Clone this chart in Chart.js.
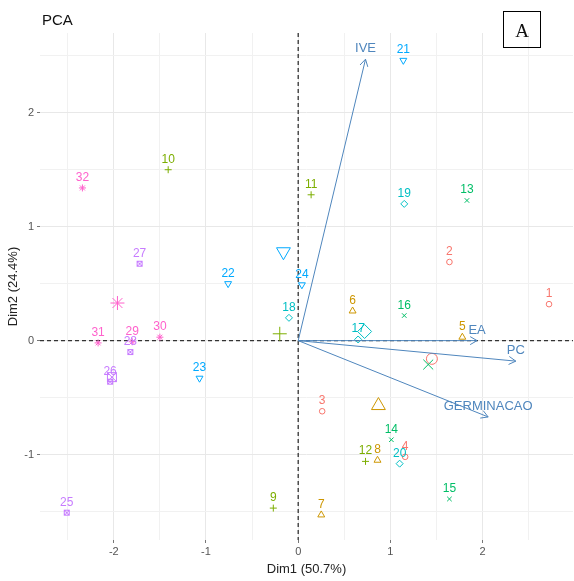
<!DOCTYPE html>
<html>
<head>
<meta charset="utf-8">
<script src="https://cdn.jsdelivr.net/npm/chart.js@4"></script>
<style>
  html, body { margin: 0; padding: 0; background: #fff; overflow: hidden; }
  canvas { display: block; }
</style>
</head>
<body>
<canvas id="pca" width="574" height="581"></canvas>
<script>
// --- DATA ---
const pointLabels = ['1','2','3','4','5','6','7','8','9','10','11','12','13','14','15','16',
                     '17','18','19','20','21','22','23','24','25','26','27','28','29','30','31','32'];
const dim1 = [2.72, 1.64, 0.26, 1.16, 1.78, 0.59, 0.25, 0.86, -0.27, -1.41, 0.14, 0.73,
              1.83, 1.01, 1.64, 1.15, 0.65, -0.10, 1.15, 1.10, 1.14, -0.76, -1.07, 0.04,
              -2.51, -2.04, -1.72, -1.82, -1.80, -1.50, -2.17, -2.34];
const dim2 = [0.32, 0.69, -0.62, -1.02, 0.03, 0.26, -1.53, -1.05, -1.47, 1.50, 1.28, -1.06,
              1.23, -0.87, -1.39, 0.22, 0.01, 0.20, 1.20, -1.08, 2.46, 0.50, -0.33, 0.49,
              -1.51, -0.36, 0.675, -0.10, -0.01, 0.03, -0.02, 1.34];
const groupOf = [0,0,0,0, 1,1,1,1, 2,2,2,2, 3,3,3,3, 4,4,4,4, 5,5,5,5, 6,6,6,6, 7,7,7,7];

// group means (big markers)
const centerDim1 = [1.45, 0.87, -0.20, 1.41, 0.72, -0.16, -2.02, -1.96];
const centerDim2 = [-0.16, -0.57, 0.06, -0.21, 0.08, 0.78, -0.32, 0.33];

// variables (arrows)
const varNames = ['IVE', 'EA', 'PC', 'GERMINACAO'];
const varDim1 = [0.73, 1.94, 2.36, 2.06];
const varDim2 = [2.47, 0.00, -0.18, -0.67];

const xTicks = [-2.5, -2, -1.5, -1, -0.5, 0, 0.5, 1, 1.5, 2, 2.5];
const yTicks = [-1.5, -1, -0.5, 0, 0.5, 1, 1.5, 2, 2.5];

// --- STYLE ---
const colors = ['#F8766D', '#CD9600', '#7CAE00', '#00BE67', '#00BFC4', '#00A9FF', '#C77CFF', '#FF61CC'];
const arrowColor = '#4f86bd';

function squareCross(size, color) {
    const c = document.createElement('canvas');
    c.width = c.height = size + 2;
    const g = c.getContext('2d');
    g.strokeStyle = color;
    g.lineWidth = 1;
    g.strokeRect(1.5, 1.5, size - 1, size - 1);
    g.beginPath();
    g.moveTo(1.5, 1.5); g.lineTo(size + 0.5, size + 0.5);
    g.moveTo(size + 0.5, 1.5); g.lineTo(1.5, size + 0.5);
    g.stroke();
    return c;
}

// shape per group: circle, triangle, plus, x, diamond, down triangle, square-x, asterisk
const shapes = ['circle', 'triangle', 'cross', 'crossRot', 'rectRot', 'triangle', squareCross(6, colors[6]), 'star'];
const bigShapes = ['circle', 'triangle', 'cross', 'crossRot', 'rectRot', 'triangle', squareCross(10, colors[6]), 'star'];
const radius = [2.8, 4, 3.5, 3.2, 3.5, 4, 3, 3.5];
const bigRadius = [5.5, 8, 7, 7, 7, 8, 5, 7];
const rotation = [0, 0, 0, 0, 0, 180, 0, 0];

// --- DATASETS ---
const datasets = [];

varNames.forEach((name, i) => {
    datasets.push({
        label: name,
        data: [{ x: 0, y: 0 }, { x: varDim1[i], y: varDim2[i] }],
        showLine: true,
        borderColor: arrowColor,
        borderWidth: 1,
        pointRadius: 0,
        isArrow: true
    });
});

colors.forEach((col, g) => {
    const pts = [];
    pointLabels.forEach((lab, i) => {
        if (groupOf[i] === g) pts.push({ x: dim1[i], y: dim2[i], label: lab });
    });
    datasets.push({
        label: 'G' + (g + 1),
        data: pts,
        pointStyle: shapes[g],
        pointRadius: radius[g],
        pointRotation: rotation[g],
        borderColor: col,
        backgroundColor: 'rgba(0,0,0,0)',
        borderWidth: 1,
        isGroup: true
    });
});

datasets.push({
    label: 'centres',
    data: centerDim1.map((x, g) => ({ x: x, y: centerDim2[g] })),
    pointStyle: bigShapes,
    pointRadius: bigRadius,
    pointRotation: rotation,
    borderColor: colors,
    backgroundColor: 'rgba(0,0,0,0)',
    borderWidth: 1
});

// --- DRAWING EXTRAS ---
const extras = {
    id: 'extras',
    beforeDatasetsDraw(chart) {
        const ctx = chart.ctx;
        const a = chart.chartArea;
        const x0 = chart.scales.x.getPixelForValue(0);
        const y0 = chart.scales.y.getPixelForValue(0);
        ctx.save();
        ctx.strokeStyle = '#333';
        ctx.lineWidth = 1.3;
        ctx.setLineDash([4, 3]);
        ctx.beginPath();
        ctx.moveTo(a.left, y0); ctx.lineTo(a.right, y0);
        ctx.moveTo(x0, a.top); ctx.lineTo(x0, a.bottom);
        ctx.stroke();
        ctx.restore();
    },
    afterDatasetsDraw(chart) {
        const ctx = chart.ctx;
        ctx.save();
        ctx.textAlign = 'center';
        ctx.textBaseline = 'alphabetic';

        chart.data.datasets.forEach((ds, i) => {
            const meta = chart.getDatasetMeta(i);
            if (ds.isArrow) {
                const p0 = meta.data[0], p1 = meta.data[1];
                const ang = Math.atan2(p1.y - p0.y, p1.x - p0.x);
                const len = 8;
                ctx.strokeStyle = arrowColor;
                ctx.lineWidth = 1;
                ctx.beginPath();
                ctx.moveTo(p1.x - len * Math.cos(ang - Math.PI / 6), p1.y - len * Math.sin(ang - Math.PI / 6));
                ctx.lineTo(p1.x, p1.y);
                ctx.lineTo(p1.x - len * Math.cos(ang + Math.PI / 6), p1.y - len * Math.sin(ang + Math.PI / 6));
                ctx.stroke();
                ctx.font = '13px "Liberation Sans", Arial, sans-serif';
                ctx.fillStyle = arrowColor;
                ctx.fillText(ds.label, p1.x, p1.y - 7);
            }
            if (ds.isGroup) {
                ctx.font = '12px "Liberation Sans", Arial, sans-serif';
                ctx.fillStyle = ds.borderColor;
                meta.data.forEach((el, j) => {
                    ctx.fillText(ds.data[j].label, el.x, el.y - 7);
                });
            }
        });

        // title
        ctx.textAlign = 'left';
        ctx.fillStyle = '#111';
        ctx.font = '15px "Liberation Sans", Arial, sans-serif';
        ctx.fillText('PCA', 42, 25);

        // panel tag
        ctx.strokeStyle = '#000';
        ctx.lineWidth = 1;
        ctx.strokeRect(503.5, 11.5, 37, 36);
        ctx.textAlign = 'center';
        ctx.font = '19px "Liberation Serif", "Times New Roman", serif';
        ctx.fillText('A', 522, 37);
        ctx.restore();
    }
};

const gridColor = c => Number.isInteger(c.tick.value) ? '#e8e8e8' : '#f1f1f1';
const tickColor = c => Number.isInteger(c.tick.value) ? '#777' : 'rgba(0,0,0,0)';

new Chart(document.getElementById('pca'), {
    type: 'scatter',
    data: { datasets: datasets },
    options: {
        responsive: false,
        animation: false,
        layout: { autoPadding: false, padding: { top: 33, right: 1, left: 0, bottom: 0 } },
        plugins: { legend: { display: false }, tooltip: { enabled: false } },
        scales: {
            x: {
                min: -2.8, max: 2.98,
                afterBuildTicks: s => { s.ticks = xTicks.map(v => ({ value: v })); },
                afterFit: s => { s.height = 41; },
                grid: { color: gridColor, tickColor: tickColor, tickLength: 3, lineWidth: 1 },
                border: { display: false },
                ticks: {
                    autoSkip: false, maxRotation: 0, padding: 2,
                    color: '#555', font: { size: 11, family: '"Liberation Sans", Arial, sans-serif' },
                    callback: v => Number.isInteger(v) ? String(v) : ''
                },
                title: {
                    display: true, text: 'Dim1 (50.7%)', color: '#222',
                    font: { size: 13, family: '"Liberation Sans", Arial, sans-serif' },
                    padding: { top: 0, bottom: 4 }
                }
            },
            y: {
                min: -1.75, max: 2.7,
                afterBuildTicks: s => { s.ticks = yTicks.map(v => ({ value: v })); },
                afterFit: s => { s.width = 40; },
                grid: { color: gridColor, tickColor: tickColor, tickLength: 3, lineWidth: 1 },
                border: { display: false },
                ticks: {
                    autoSkip: false, padding: 3,
                    color: '#555', font: { size: 11, family: '"Liberation Sans", Arial, sans-serif' },
                    callback: v => Number.isInteger(v) ? String(v) : ''
                },
                title: {
                    display: true, text: 'Dim2 (24.4%)', color: '#222',
                    font: { size: 13, family: '"Liberation Sans", Arial, sans-serif' },
                    padding: { top: 6, bottom: 0 }
                }
            }
        }
    },
    plugins: [extras]
});
</script>
</body>
</html>
